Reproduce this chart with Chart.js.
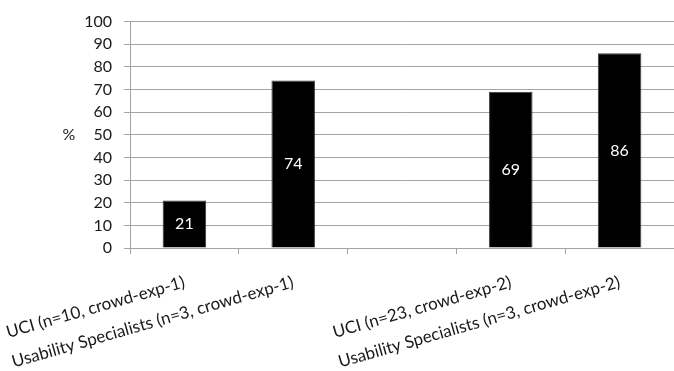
<!DOCTYPE html>
<html>
<head>
<meta charset="utf-8">
<script src="https://cdn.jsdelivr.net/npm/chart.js@4"></script>
<style>
  html, body { margin: 0; padding: 0; background: #fff; }
  #wrap { width: 674px; height: 371px; }
</style>
</head>
<body>
<div id="wrap"><canvas id="chart"></canvas></div>
<script>
// categories (the middle one is an empty slot in the original)
const groups = [
  "UCI (n=10, crowd-exp-1)",
  "Usability Specialists (n=3, crowd-exp-1)",
  "",
  "UCI (n=23, crowd-exp-2)",
  "Usability Specialists (n=3, crowd-exp-2)"
]
// percentages
const percent = [21, 74, null, 69, 86]
const yTicks = [0, 10, 20, 30, 40, 50, 60, 70, 80, 90, 100]
const axisTitle = "%"

const font = "Lato, 'Open Sans', sans-serif"
const gridGrey = "#a4a4a4"

// white numbers inside the bars
const barValues = {
  id: "barValues",
  afterDatasetsDraw(chart) {
    const c = chart.ctx
    const meta = chart.getDatasetMeta(0)
    c.save()
    c.fillStyle = "#fff"
    c.font = "16px " + font
    c.textAlign = "center"
    c.textBaseline = "middle"
    meta.data.forEach((bar, i) => {
      let v = percent[i]
      if (v == null) return
      c.fillText(String(v), bar.x, (bar.y + bar.base) / 2)
    })
    c.restore()
  }
}

// horizontal "%" to the left of the y ticks
const yTitle = {
  id: "yTitle",
  afterDraw(chart) {
    const c = chart.ctx
    const y = chart.scales.y
    c.save()
    c.fillStyle = "#1a1a1a"
    c.font = "16px " + font
    c.textAlign = "center"
    c.textBaseline = "middle"
    c.fillText(axisTitle, 69, (y.top + y.bottom) / 2)
    c.restore()
  }
}

new Chart(document.getElementById("chart"), {
  type: "bar",
  data: {
    labels: groups,
    datasets: [{
      data: percent,
      backgroundColor: "#000",
      borderColor: "#3a3a3a",
      borderWidth: 1,
      barPercentage: 0.4,
      categoryPercentage: 1
    }]
  },
  options: {
    responsive: true,
    maintainAspectRatio: false,
    animation: false,
    layout: { padding: { top: 12, right: 0, left: 0, bottom: 0 } },
    plugins: {
      legend: { display: false },
      tooltip: { enabled: false }
    },
    scales: {
      x: {
        grid: {
          offset: true,
          drawOnChartArea: false,
          tickLength: 6,
          color: gridGrey
        },
        border: { color: gridGrey },
        ticks: {
          minRotation: 16,
          maxRotation: 16,
          autoSkip: false,
          padding: 18,
          color: "#1a1a1a",
          font: { family: font, size: 17 }
        },
        afterFit(scale) {
          scale.height = 123
          // the long rotated labels may run to the canvas edge, like the original
          scale.paddingLeft = 0
          scale.paddingRight = 0
        }
      },
      y: {
        min: 0,
        max: 100,
        afterBuildTicks(scale) { scale.ticks = yTicks.map(v => ({ value: v })) },
        grid: { color: gridGrey, tickLength: 6 },
        border: { color: gridGrey },
        ticks: {
          padding: 12,
          color: "#1a1a1a",
          font: { family: font, size: 16 }
        },
        afterFit(scale) { scale.width = 130 }
      }
    }
  },
  plugins: [barValues, yTitle]
})
</script>
</body>
</html>
